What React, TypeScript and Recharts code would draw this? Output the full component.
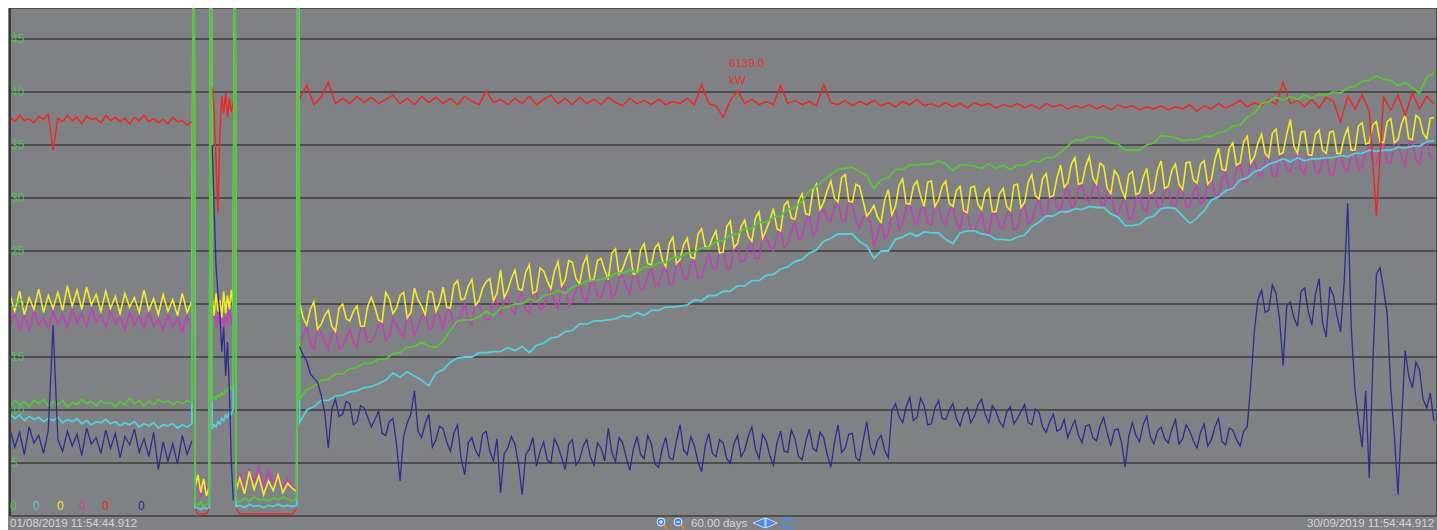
import { LineChart, Line, XAxis, YAxis, CartesianGrid } from 'recharts';

// readings that go off the top of the scale at the outages
const SPIKE = 70;

// 01/08 -> ~08/08, one reading every 0.2 day
const BEFORE_STEP = 0.2;
const greenBefore = [
  10.4, 10.9, 10.5, 10.8, 10.3, 10.9, 10.6, 11.0, 10.4, 10.8,
  10.5, 10.9, 10.3, 10.7, 10.5, 11.0, 10.6, 10.8, 10.4, 10.9,
  10.6, 10.7, 10.3, 10.8, 10.5, 11.1, 10.6, 10.9, 10.4, 10.8,
  10.5, 11.0, 10.7, 10.9, 10.5, 10.8, 10.6, 10.9, 10.7,
];
const cyanBefore = [
  9.6, 9.2, 9.5, 9.0, 9.4, 9.1, 9.3, 8.9, 9.2, 9.0,
  9.3, 8.8, 9.1, 8.9, 9.2, 8.7, 9.0, 8.6, 8.9, 8.8,
  9.1, 8.7, 8.9, 8.5, 8.8, 8.6, 8.9, 8.4, 8.7, 8.5,
  8.8, 8.3, 8.6, 8.5, 8.7, 8.3, 8.6, 8.4, 8.7,
];
const yellowBefore = [
  20.9, 19.3, 21.2, 19.0, 20.6, 19.5, 21.4, 19.2, 20.8, 19.6,
  21.1, 19.4, 21.7, 19.8, 21.3, 19.5, 21.6, 19.9, 20.9, 19.3,
  21.2, 19.6, 20.7, 19.1, 21.0, 19.7, 20.6, 19.2, 21.3, 19.4,
  20.5, 19.0, 20.9, 19.3, 20.4, 18.9, 21.0, 19.2, 20.3,
];
const magentaBefore = [
  17.9, 19.2, 17.6, 18.9, 17.5, 19.4, 18.0, 18.7, 17.7, 19.3,
  18.1, 19.0, 17.8, 19.5, 18.2, 19.1, 17.9, 19.6, 18.3, 19.0,
  17.8, 19.4, 18.1, 18.8, 17.6, 19.2, 18.0, 18.9, 17.7, 19.3,
  17.9, 18.6, 17.5, 19.0, 17.8, 18.7, 17.4, 18.9, 17.6,
];
const redBefore = [
  37.6, 37.2, 37.8, 37.3, 37.5, 37.1, 37.7, 37.4, 37.9, 34.5,
  37.5, 37.2, 37.8, 37.3, 37.6, 37.0, 37.7, 37.4, 37.5, 37.1,
  37.8, 37.3, 37.6, 37.2, 37.5, 37.0, 37.6, 37.3, 37.8, 37.2,
  37.5, 37.1, 37.4, 37.0, 37.6, 37.2, 37.3, 36.9, 37.2,
];
const navyBefore = [
  8.2, 6.5, 7.9, 5.8, 8.4, 6.9, 7.6, 5.9, 8.1, 18.0,
  7.2, 6.1, 8.0, 6.6, 7.7, 5.7, 8.3, 6.8, 7.4, 5.9,
  8.1, 6.4, 7.8, 5.5, 7.5, 6.7, 8.2, 6.0, 7.3, 5.6,
  7.9, 4.4, 7.0, 5.2, 6.8, 4.9, 7.6, 5.8, 7.1,
];

// outages and short restart around 08/08 - 12/08
const MID_DAYS = [
  7.68, 7.73, 7.85, 7.97, 8.09, 8.21, 8.33, 8.39,
  8.45, 8.53, 8.61, 8.69, 8.77, 8.85, 8.93, 9.01, 9.09, 9.17, 9.25, 9.33,
  9.39, 9.45, 9.6, 9.8, 10.0, 10.2, 10.4, 10.6, 10.8, 11.0, 11.2, 11.4, 11.6, 11.8, 11.98,
  12.04,
];
const greenMid = [
  SPIKE, 1.2, 1.0, 1.3, 0.9, 1.1, 1.2, SPIKE,
  10.9, 11.2, 11.0, 11.4, 11.3, 11.6, 11.5, 11.9, 11.8, 12.2, 12.0, 12.5,
  SPIKE, 1.5, 1.3, 1.7, 1.4, 1.8, 1.5, 1.6, 1.4, 1.7, 1.5, 1.8, 1.6, 1.4, 1.7,
  SPIKE,
];
const cyanMid = [
  SPIKE, 0.7, 0.8, 0.6, 0.8, 0.7, 0.7, SPIKE,
  8.2, 8.6, 8.4, 8.9, 8.7, 9.2, 9.0, 9.5, 9.3, 9.8, 9.6, 10.1,
  SPIKE, 0.9, 1.0, 0.8, 1.1, 0.9, 1.0, 0.8, 1.0, 0.9, 1.1, 0.9, 1.0, 0.9, 1.0,
  SPIKE,
];
const yellowMid = [
  SPIKE, 2.6, 3.9, 2.2, 3.5, 1.9, 2.8, SPIKE,
  20.6, 18.9, 21.0, 19.3, 20.4, 18.7, 21.2, 19.1, 20.8, 19.5, 21.3, 19.8,
  SPIKE, 2.4, 3.6, 2.1, 4.2, 2.5, 3.8, 2.0, 3.3, 2.4, 3.9, 2.2, 3.1, 2.6, 2.3,
  SPIKE,
];
const magentaMid = [
  SPIKE, 2.2, 3.4, 1.8, 3.0, 2.6, 1.9, SPIKE,
  18.5, 19.6, 17.8, 19.2, 18.1, 19.4, 17.6, 18.9, 18.3, 19.7, 18.0, 19.1,
  SPIKE, 3.0, 4.1, 2.4, 4.4, 3.2, 4.6, 2.7, 4.3, 3.0, 4.0, 2.6, 3.5, 2.8, 2.5,
  SPIKE,
];
const redMid = [
  null, 0.7, 0.2, 0.2, 0.2, 0.2, 0.7, null,
  40.5, 38.2, 33.5, 28.6, 36.0, 39.6, 38.0, 39.9, 37.6, 39.4, 38.1, 39.0,
  null, 0.7, 0.2, 0.2, 0.2, 0.2, 0.2, 0.2, 0.2, 0.2, 0.2, 0.2, 0.2, 0.2, 0.7,
  null,
];
const navyMid = [
  null, null, null, null, null, null, null, null,
  35.0, 29.0, 23.5, 21.0, 19.0, 15.5, 17.8, 13.2, 16.4, 11.5, 5.0, 1.5,
  null, null, null, null, null, null, null, null, null, null, null, null, null, null, null,
  null,
];

// 12/08 -> 30/09: smooth channels every 0.3 day, noisy ones every 0.15 day
const AFTER_START = 12.1;
const AFTER_STEP = 0.3;
const AFTER_FINE_STEP = 0.15;
const greenAfter = [
  11.0, 11.9, 12.2, 12.8, 12.9, 13.4, 13.4, 13.9, 14.0, 14.4,
  14.4, 14.8, 14.8, 15.3, 15.4, 15.9, 16.0, 16.4, 16.0, 15.9,
  16.5, 17.5, 18.4, 18.5, 18.5, 18.8, 19.3, 18.9, 19.6, 19.7,
  20.0, 20.0, 20.5, 20.2, 20.8, 20.9, 21.3, 21.0, 21.6, 21.8,
  22.2, 22.2, 22.3, 22.5, 22.9, 22.9, 23.2, 22.9, 23.5, 23.5,
  23.9, 23.9, 24.4, 24.4, 24.8, 24.9, 25.3, 25.3, 25.9, 26.0,
  26.5, 26.6, 27.1, 27.1, 27.7, 27.7, 28.2, 28.3, 28.9, 29.1,
  29.7, 30.7, 31.1, 31.7, 32.2, 32.7, 32.8, 32.9, 32.5, 32.1,
  30.9, 31.7, 31.9, 32.7, 32.7, 33.1, 33.1, 33.2, 33.2, 33.5,
  33.2, 32.6, 33.1, 33.1, 33.0, 32.8, 33.2, 32.8, 33.1, 32.7,
  33.1, 33.1, 33.5, 33.4, 33.8, 33.8, 34.3, 34.9, 35.5, 35.4,
  35.8, 35.7, 35.7, 35.2, 35.1, 34.5, 34.5, 34.5, 35.0, 35.2,
  35.9, 35.8, 35.7, 35.4, 35.5, 35.5, 35.8, 35.8, 36.2, 36.3,
  36.8, 36.9, 37.6, 38.0, 38.9, 39.1, 39.5, 39.2, 39.6, 39.3,
  39.7, 39.4, 39.8, 39.7, 40.0, 39.9, 40.4, 40.5, 41.0, 41.1,
  41.5, 41.2, 41.1, 40.6, 40.9, 40.4, 39.9, 41.4, 41.8,
];
const cyanAfter = [
  8.8, 10.0, 10.3, 10.9, 10.9, 11.3, 11.4, 11.7, 11.8, 12.1,
  12.2, 12.5, 12.8, 13.5, 13.1, 13.6, 13.2, 12.8, 12.3, 13.5,
  13.8, 14.5, 14.9, 15.0, 15.0, 15.4, 15.4, 15.5, 15.5, 15.9,
  15.6, 16.0, 15.4, 16.1, 16.3, 16.8, 16.9, 17.4, 17.5, 18.1,
  18.1, 18.4, 18.4, 18.5, 18.6, 18.9, 18.8, 19.2, 18.9, 19.4,
  19.4, 19.7, 19.7, 19.8, 19.9, 20.4, 20.3, 20.8, 20.8, 21.2,
  21.2, 21.7, 21.7, 22.2, 22.2, 22.7, 22.8, 23.3, 23.5, 24.0,
  24.2, 24.8, 25.1, 25.9, 26.2, 26.6, 26.6, 26.6, 25.9, 25.5,
  24.3, 25.0, 25.0, 26.1, 26.3, 26.7, 26.4, 26.8, 26.7, 26.7,
  26.1, 25.7, 26.7, 26.9, 26.9, 26.6, 26.5, 26.1, 26.1, 26.0,
  26.3, 26.5, 27.3, 27.7, 28.3, 28.3, 28.7, 28.7, 29.0, 28.9,
  29.2, 29.1, 29.1, 28.5, 28.2, 27.4, 27.4, 27.5, 28.1, 28.3,
  29.0, 29.1, 29.0, 28.3, 27.6, 28.1, 28.8, 29.8, 30.1, 30.7,
  30.9, 31.7, 31.9, 32.5, 32.7, 33.2, 33.4, 33.7, 33.4, 33.8,
  33.5, 33.7, 33.7, 33.8, 33.8, 34.0, 33.9, 34.2, 34.2, 34.5,
  34.4, 34.5, 34.5, 34.8, 34.7, 34.9, 34.9, 35.3, 35.4,
];
const redAfter = [
  39.4, 40.6, 38.8, 39.5, 40.9, 38.9, 39.4, 38.9, 39.6, 39.0,
  39.5, 38.9, 39.3, 39.7, 38.9, 39.4, 38.8, 39.6, 39.0, 39.5,
  38.9, 39.4, 38.8, 39.6, 39.1, 38.8, 40.1, 39.0, 39.3, 38.8,
  39.4, 38.9, 39.6, 38.8, 39.3, 39.7, 38.9, 39.4, 38.8, 39.5,
  38.9, 39.3, 38.8, 39.5, 39.0, 38.7, 39.4, 38.9, 39.2, 38.8,
  39.3, 38.8, 39.1, 38.9, 39.4, 38.8, 40.7, 38.9, 38.7, 37.6,
  39.2, 40.1, 38.9, 39.3, 38.8, 39.1, 38.8, 40.6, 38.9, 39.2,
  38.8, 39.1, 38.7, 40.7, 39.0, 38.8, 39.2, 38.7, 39.1, 38.8,
  39.2, 38.7, 39.0, 38.6, 39.1, 38.8, 39.3, 38.7, 38.9, 38.6,
  39.0, 38.6, 38.9, 38.5, 39.0, 38.7, 38.9, 38.5, 38.8, 38.6,
  38.9, 38.5, 38.8, 38.4, 38.9, 38.6, 38.8, 38.4, 38.7, 38.5,
  38.8, 38.4, 38.7, 38.3, 38.8, 38.5, 38.7, 38.3, 38.6, 38.4,
  38.7, 38.3, 38.6, 38.4, 38.8, 38.2, 38.7, 38.4, 38.9, 38.5,
  38.8, 39.2, 38.6, 39.0, 38.7, 39.3, 38.8, 40.9, 38.9, 39.2,
  38.6, 39.3, 38.5, 39.5, 39.1, 37.2, 39.6, 38.4, 39.7, 38.2,
  28.3, 39.5, 38.3, 39.7, 37.8, 39.9, 38.4, 39.6, 38.9,
];
const yellowAfter = [
  20.1, 18.7, 18.0, 19.5, 20.2, 17.6, 18.1, 18.9, 19.4, 17.9, 17.4, 19.6, 20.0, 18.6, 18.4, 19.3, 19.8, 17.9, 17.9, 19.8,
  20.6, 19.7, 18.5, 18.3, 21.1, 20.5, 19.1, 19.6, 20.8, 21.1, 18.7, 19.2, 21.5, 20.4, 19.8, 19.0, 21.2, 21.1, 19.3, 20.1,
  21.6, 19.7, 19.6, 21.8, 22.2, 20.4, 20.5, 21.7, 22.3, 19.9, 20.3, 21.5, 22.1, 22.4, 20.3, 21.0, 23.2, 20.6, 21.3, 22.4,
  23.2, 21.4, 21.3, 23.0, 23.7, 21.0, 21.2, 23.4, 23.1, 22.2, 21.4, 23.1, 24.0, 21.7, 22.3, 24.1, 23.9, 22.4, 21.9, 23.7,
  24.5, 22.2, 22.3, 24.1, 24.3, 23.2, 22.3, 24.8, 25.2, 22.8, 23.3, 24.3, 25.1, 22.8, 22.9, 25.1, 25.7, 23.8, 23.7, 25.3,
  25.7, 24.2, 23.5, 25.7, 26.3, 23.8, 24.2, 25.6, 26.2, 24.4, 24.3, 26.6, 27.1, 25.4, 25.3, 26.2, 26.9, 24.8, 24.9, 27.3,
  27.8, 25.3, 25.7, 27.3, 27.9, 26.4, 25.9, 28.1, 28.7, 26.2, 27.0, 27.9, 29.0, 27.1, 26.9, 29.3, 29.7, 28.1, 28.0, 29.7,
  30.4, 28.5, 28.4, 30.7, 31.3, 28.9, 29.6, 30.7, 31.6, 30.0, 29.6, 31.9, 32.2, 29.7, 29.6, 31.3, 31.1, 29.7, 28.3, 28.7,
  29.3, 28.2, 27.7, 29.8, 30.8, 28.4, 29.2, 31.2, 31.8, 29.5, 29.4, 31.1, 31.6, 30.2, 29.2, 31.5, 31.6, 29.2, 29.8, 31.1,
  31.6, 29.5, 29.2, 30.7, 31.1, 28.8, 28.6, 31.0, 31.1, 29.4, 28.9, 30.5, 30.9, 28.7, 28.7, 30.4, 30.9, 29.2, 28.8, 31.2,
  31.3, 29.1, 29.6, 31.5, 32.2, 30.2, 29.9, 31.8, 32.3, 30.1, 30.2, 31.9, 33.1, 31.0, 31.4, 33.2, 33.8, 31.3, 31.4, 33.0,
  33.9, 31.9, 31.3, 33.3, 33.0, 30.9, 30.4, 32.6, 32.1, 30.8, 30.0, 32.2, 32.5, 30.3, 30.5, 31.9, 32.8, 30.4, 30.7, 32.6,
  33.5, 30.9, 31.1, 32.6, 33.2, 31.3, 30.8, 33.3, 33.4, 31.7, 31.4, 33.2, 33.5, 31.3, 31.7, 33.6, 34.7, 32.7, 32.6, 34.7,
  35.2, 33.1, 33.3, 35.3, 35.8, 33.3, 33.9, 35.2, 36.0, 34.2, 33.8, 36.1, 36.5, 34.1, 34.3, 36.0, 37.4, 34.9, 34.2, 36.2,
  36.3, 34.1, 34.0, 36.0, 36.4, 34.5, 34.2, 36.2, 36.3, 34.2, 34.2, 35.7, 36.6, 34.5, 34.5, 36.8, 37.1, 35.1, 35.2, 36.9,
  37.2, 35.3, 35.2, 37.2, 37.5, 35.2, 35.5, 37.0, 37.8, 35.6, 35.5, 37.8, 37.5, 36.1, 35.6, 37.5, 37.6,
];
const magentaAfter = [
  16.2, 17.2, 17.8, 16.4, 15.7, 17.8, 17.3, 16.5, 15.7, 17.2, 17.6, 15.8, 16.0, 16.8, 17.6, 16.4, 15.9, 17.7, 17.7, 16.4,
  16.4, 17.0, 18.1, 18.3, 16.6, 16.9, 18.7, 18.0, 17.3, 16.9, 19.0, 18.6, 17.0, 17.9, 18.8, 19.2, 17.6, 17.8, 19.4, 18.8,
  17.6, 19.3, 19.5, 17.8, 18.1, 19.1, 20.0, 18.4, 18.0, 20.1, 19.9, 19.1, 18.5, 18.6, 20.5, 20.1, 18.9, 20.6, 20.6, 19.5,
  19.1, 20.5, 21.1, 19.4, 19.2, 21.2, 21.0, 19.4, 19.7, 20.7, 21.5, 20.2, 19.6, 21.5, 21.6, 19.8, 20.2, 21.3, 22.1, 20.6,
  20.2, 22.0, 22.1, 20.7, 20.6, 21.7, 22.6, 20.6, 21.0, 22.4, 22.8, 21.6, 20.9, 23.0, 22.8, 21.3, 21.5, 22.7, 23.4, 21.7,
  21.8, 22.9, 23.7, 21.9, 21.9, 23.8, 23.8, 22.5, 22.3, 23.8, 24.1, 22.4, 22.5, 23.8, 24.7, 23.5, 23.3, 25.0, 25.2, 23.3,
  23.4, 25.3, 25.4, 24.0, 24.1, 25.3, 26.1, 24.3, 24.3, 26.4, 26.3, 25.4, 25.0, 26.5, 27.1, 25.3, 25.7, 26.8, 27.8, 26.1,
  26.3, 27.8, 28.5, 26.5, 26.9, 28.7, 29.0, 28.0, 27.8, 29.1, 29.8, 27.9, 27.8, 29.9, 29.3, 27.9, 27.1, 28.2, 28.2, 27.8,
  25.4, 26.6, 27.7, 26.2, 26.6, 28.4, 29.0, 27.0, 27.6, 29.1, 29.4, 28.0, 27.5, 28.9, 29.2, 27.7, 27.4, 29.4, 29.4, 27.8,
  27.5, 28.9, 29.2, 27.8, 27.0, 29.0, 28.7, 27.0, 26.8, 27.9, 28.6, 26.9, 26.6, 28.5, 28.5, 27.3, 27.1, 28.5, 28.9, 27.0,
  27.1, 28.9, 29.3, 27.5, 27.9, 29.1, 30.0, 28.4, 28.2, 30.3, 30.2, 29.2, 28.8, 30.3, 31.0, 29.0, 29.4, 30.9, 31.2, 29.9,
  29.6, 31.0, 31.4, 29.7, 29.0, 30.9, 30.4, 28.8, 28.4, 29.5, 30.0, 28.0, 28.1, 29.9, 30.3, 29.0, 28.7, 30.6, 30.6, 29.2,
  29.0, 30.9, 30.8, 29.5, 29.2, 30.7, 31.1, 29.1, 29.2, 30.6, 31.1, 29.4, 29.7, 31.5, 31.9, 30.3, 30.2, 31.8, 32.4, 30.7,
  31.1, 32.7, 33.3, 31.5, 31.5, 33.5, 33.5, 32.3, 32.0, 33.5, 34.0, 32.1, 32.0, 33.9, 34.0, 32.6, 32.5, 33.6, 34.3, 32.6,
  32.3, 34.3, 34.1, 32.6, 32.3, 33.6, 34.1, 32.2, 32.2, 34.0, 34.0, 32.8, 32.5, 34.1, 34.6, 32.6, 33.0, 34.4, 34.9, 33.3,
  33.2, 34.7, 35.1, 33.4, 33.3, 35.2, 35.2, 33.9, 33.0, 35.2, 35.3, 33.6, 33.2, 35.0, 35.4, 33.9, 33.7,
];
const navyAfter = [
  16.0, 15.2, 14.6, 13.4, 13.0, 12.6, 11.4, 9.8, 6.4, 10.1, 11.0, 9.4, 9.6, 10.8, 10.6, 8.6, 8.9, 10.4, 10.2, 9.3,
  8.4, 9.1, 9.9, 7.8, 7.6, 8.9, 9.2, 6.8, 3.3, 7.5, 8.8, 9.6, 11.8, 8.0, 7.4, 8.7, 9.6, 6.5, 7.2, 8.5,
  8.2, 7.0, 6.1, 7.8, 8.6, 5.4, 3.9, 6.9, 7.4, 6.2, 5.6, 7.7, 8.0, 6.1, 5.2, 7.3, 2.2, 5.9, 6.4, 7.5,
  6.8, 4.9, 2.0, 5.8, 6.3, 7.4, 4.7, 6.1, 7.0, 5.3, 5.0, 7.3, 6.6, 5.5, 4.4, 6.8, 7.2, 4.8, 5.3, 6.6,
  7.2, 5.6, 4.8, 6.9, 6.4, 5.2, 8.3, 6.0, 5.1, 7.4, 6.9, 5.5, 4.3, 6.3, 7.5, 5.8, 5.4, 7.6, 6.8, 4.9,
  4.6, 6.3, 7.4, 5.5, 5.3, 7.1, 8.6, 6.2, 5.8, 7.5, 6.6, 5.1, 4.2, 6.6, 7.8, 5.9, 5.6, 7.2, 6.9, 5.4,
  5.0, 6.8, 7.6, 5.6, 6.2, 7.5, 8.4, 6.3, 5.4, 7.7, 7.1, 5.7, 4.8, 6.9, 8.0, 6.1, 6.0, 8.1, 7.3, 5.6,
  5.3, 7.0, 8.2, 6.4, 6.1, 7.9, 7.4, 5.8, 4.6, 6.9, 8.6, 6.0, 6.4, 7.7, 7.8, 5.5, 5.2, 7.1, 8.9, 6.5,
  5.8, 7.1, 7.6, 6.2, 5.5, 9.9, 10.6, 9.4, 8.8, 10.3, 11.2, 9.0, 9.3, 11.1, 10.4, 8.6, 8.7, 10.2, 10.9, 9.2,
  9.1, 10.0, 10.6, 9.2, 8.5, 9.7, 10.2, 8.8, 9.4, 10.5, 11.0, 9.6, 8.8, 10.4, 9.9, 8.9, 8.4, 9.8, 10.3, 8.7,
  9.2, 9.9, 10.5, 8.8, 8.6, 10.1, 9.8, 8.4, 7.9, 8.9, 9.6, 8.0, 8.2, 9.1, 7.4, 8.3, 9.0, 7.6, 6.9, 8.5,
  8.6, 7.4, 7.1, 8.5, 9.3, 7.8, 6.6, 8.1, 8.2, 6.9, 4.6, 7.5, 8.8, 7.6, 7.0, 8.6, 9.4, 7.5, 6.8, 8.0,
  8.4, 7.3, 6.9, 8.2, 9.1, 6.8, 7.3, 8.6, 8.0, 7.1, 6.4, 7.9, 8.7, 6.6, 7.2, 8.4, 9.2, 7.0, 6.7, 8.3,
  8.1, 7.2, 6.6, 8.0, 8.4, 12.5, 17.5, 20.4, 21.3, 19.2, 19.4, 21.8, 21.0, 18.6, 14.2, 19.8, 20.2, 18.7, 17.9, 21.2,
  21.5, 19.3, 18.0, 20.9, 22.4, 18.2, 16.9, 21.6, 20.8, 18.9, 17.4, 22.0, 29.5, 17.6, 12.0, 9.0, 6.5, 11.8, 3.6, 14.5,
  22.8, 23.4, 21.4, 19.0, 12.0, 7.5, 2.0, 9.0, 15.6, 13.2, 12.1, 14.5, 13.8, 11.0, 10.2, 11.6, 9.0,
];

const GRID_DAYS = [6.5, 13.5, 20.5, 27.5, 34.5, 41.5, 48.5, 55.5];
const Y_TICKS = [5, 10, 15, 20, 25, 30, 35, 40, 45];
const X_END = 59.63;
const Y_TOP = 47.92;

// drawing order (last one on top)
const SERIES = [
  { key: 'magenta', color: '#c241b5', width: 1.6, before: magentaBefore, mid: magentaMid, after: magentaAfter, step: AFTER_FINE_STEP },
  { key: 'yellow', color: '#f3ea2b', width: 1.6, before: yellowBefore, mid: yellowMid, after: yellowAfter, step: AFTER_FINE_STEP },
  { key: 'cyan', color: '#55d0da', width: 1.8, before: cyanBefore, mid: cyanMid, after: cyanAfter, step: AFTER_STEP },
  { key: 'red', color: '#f2241f', width: 1.4, before: redBefore, mid: redMid, after: redAfter, step: AFTER_STEP },
  { key: 'green', color: '#58c63a', width: 1.8, before: greenBefore, mid: greenMid, after: greenAfter, step: AFTER_STEP },
  { key: 'navy', color: '#2d2c8e', width: 1.3, before: navyBefore, mid: navyMid, after: navyAfter, step: AFTER_FINE_STEP },
];
const LEGEND = [
  { key: 'green', left: 10 },
  { key: 'cyan', left: 33 },
  { key: 'yellow', left: 57 },
  { key: 'magenta', left: 79 },
  { key: 'red', left: 102 },
  { key: 'navy', left: 138 },
];

type Point = { day: number; v: number | null };
const seriesRows = (s: (typeof SERIES)[number]): Point[] => [
  ...s.before.map((v, i) => ({ day: i * BEFORE_STEP, v })),
  ...MID_DAYS.map((day, i) => ({ day, v: s.mid[i] as number | null })),
  ...s.after.map((v, i) => ({ day: AFTER_START + i * s.step, v })),
];

const colorOf = (key: string) => SERIES.find((s) => s.key === key)!.color;

const FONT = 'Arial, "Liberation Sans", sans-serif';
const LABEL = '#d6d6d6';

export default function App() {
  return (
    <div style={{ position: 'relative', width: 1437, height: 530, background: '#fff', overflow: 'hidden', fontFamily: FONT }}>
      <style>{'body{margin:0}'}</style>
      <div style={{ position: 'absolute', left: 8, top: 8, width: 1429, height: 522, background: '#808184' }} />
      <div style={{ position: 'absolute', left: 8, top: 8 }}>
        <LineChart width={1429} height={522} margin={{ top: 0, right: 0, left: 2, bottom: 14 }}>
          <CartesianGrid stroke="#3e3e3e" strokeWidth={1.5} />
          <XAxis
            type="number"
            dataKey="day"
            domain={[0, X_END]}
            allowDataOverflow
            ticks={GRID_DAYS}
            interval={0}
            height={0}
            tick={false}
            tickLine={false}
            axisLine={{ stroke: '#3a3a3a', strokeWidth: 2 }}
          />
          <YAxis
            type="number"
            domain={[0, Y_TOP]}
            allowDataOverflow
            ticks={Y_TICKS}
            interval={0}
            width={30}
            mirror
            tickSize={0}
            tickMargin={1}
            tickLine={false}
            axisLine={{ stroke: '#3a3a3a', strokeWidth: 2 }}
            tick={{ fill: '#52c24c', fontSize: 12, fontFamily: FONT }}
          />
          {SERIES.map((s) => (
            <Line
              key={s.key}
              data={seriesRows(s)}
              dataKey="v"
              name={s.key}
              type="linear"
              stroke={s.color}
              strokeWidth={s.width}
              dot={false}
              activeDot={false}
              connectNulls={false}
              isAnimationActive={false}
            />
          ))}
        </LineChart>
      </div>

      <div style={{ position: 'absolute', left: 729, top: 57, color: '#e5332c', fontSize: 11.5, lineHeight: '13px' }}>6139.0</div>
      <div style={{ position: 'absolute', left: 729, top: 74, color: '#e5332c', fontSize: 11.5, lineHeight: '13px' }}>kW</div>

      {LEGEND.map((l) => (
        <div key={l.key} style={{ position: 'absolute', left: l.left, top: 499, color: colorOf(l.key), fontSize: 12, lineHeight: '14px' }}>0</div>
      ))}

      <div style={{ position: 'absolute', left: 10, top: 517, color: LABEL, fontSize: 11.5, lineHeight: '13px', whiteSpace: 'nowrap' }}>
        01/08/2019 11:54:44.912
      </div>
      <div style={{ position: 'absolute', left: 1307, top: 517, color: LABEL, fontSize: 11.5, lineHeight: '13px', whiteSpace: 'nowrap' }}>
        30/09/2019 11:54:44.912
      </div>

      <svg style={{ position: 'absolute', left: 655, top: 517 }} width={142} height={13}>
        <circle cx={6} cy={5} r={4} fill="#4a86d8" stroke="#dfe9f7" strokeWidth={1} />
        <path d="M4 5h4M6 3v4" stroke="#fff" strokeWidth={1} />
        <path d="M9 8l3 4" stroke="#e8842a" strokeWidth={2} />
        <circle cx={23} cy={5} r={4} fill="#4a86d8" stroke="#dfe9f7" strokeWidth={1} />
        <path d="M21 5h4" stroke="#fff" strokeWidth={1} />
        <path d="M26 8l3 4" stroke="#e8842a" strokeWidth={2} />
        <path d="M98 6l12 -5v10z" fill="#4a90e2" stroke="#e6eefa" strokeWidth={0.8} />
        <path d="M111 1l11 5-11 5z" fill="#4a90e2" stroke="#e6eefa" strokeWidth={0.8} />
        <path d="M137 4a5 5 0 1 0 0 5" fill="none" stroke="#4a90e2" strokeWidth={2} />
        <path d="M135 2l3 2-3 2" fill="none" stroke="#4a90e2" strokeWidth={1.5} />
      </svg>
      <div style={{ position: 'absolute', left: 691, top: 517, color: LABEL, fontSize: 11.5, lineHeight: '13px', whiteSpace: 'nowrap' }}>
        60.00 days
      </div>
    </div>
  );
}
